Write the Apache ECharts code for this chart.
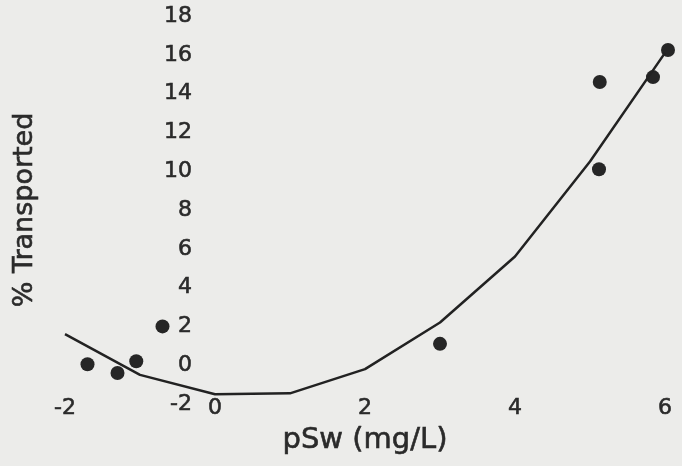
<!DOCTYPE html>
<html>
<head>
<meta charset="utf-8">
<script src="https://cdn.jsdelivr.net/npm/echarts@6/dist/echarts.min.js"></script>
<style>
  html, body { margin: 0; padding: 0; background: #ececea; }
  #main { width: 682px; height: 466px; }
</style>
</head>
<body>
<div id="main"></div>
<script>
// fitted curve
var lineX = [-2, -1, 0, 1, 2, 3, 4, 5, 6];
var lineY = [1.6, -0.5, -1.5, -1.45, -0.2, 2.2, 5.6, 10.5, 16.1];
// measured points
var pointX = [-1.7, -1.3, -1.05, -0.7, 3.0, 5.13, 5.12, 5.84, 6.04];
var pointY = [0.05, -0.4, 0.2, 2.0, 1.1, 14.6, 10.1, 14.85, 16.25];

function pairs(xs, ys) {
    var out = [];
    for (var i = 0; i < xs.length; i++) out.push([xs[i], ys[i]]);
    return out;
}

var myChart = echarts.init(document.getElementById('main'));

var textColor = '#2a2a2a';
// slightly heavier than regular, like the scanned print
var ink = { color: textColor, fontFamily: 'DejaVu Sans', textBorderColor: textColor, textBorderWidth: 0.6 };

var option = {
    backgroundColor: '#ececea',
    animation: false,
    grid: { left: 65, right: 17, top: 16, bottom: 62, containLabel: false, outerBoundsMode: 'none' },
    xAxis: {
        type: 'value',
        min: -2, max: 6, interval: 2,
        name: 'pSw (mg/L)',
        nameLocation: 'middle',
        nameGap: 22,
        nameTextStyle: echarts.util.extend({ fontSize: 29 }, ink),
        axisLine: { show: false, onZero: false },
        axisTick: { show: false },
        splitLine: { show: false },
        axisLabel: echarts.util.extend({ fontSize: 22, verticalAlign: 'middle', margin: 4 }, ink)
    },
    yAxis: {
        type: 'value',
        min: -2, max: 18, interval: 2,
        position: 'left',
        offset: -150,   // axis sits at x = 0
        name: '% Transported',
        nameLocation: 'middle',
        nameGap: 177,
        nameTextStyle: echarts.util.extend({ fontSize: 27 }, ink),
        axisLine: { show: false, onZero: false },
        axisTick: { show: false },
        splitLine: { show: false },
        axisLabel: echarts.util.extend({ fontSize: 22, margin: 23 }, ink)
    },
    series: [{
        type: 'line',
        data: pairs(lineX, lineY),
        symbol: 'none',
        lineStyle: { color: '#222', width: 2.5 },
        clip: false
    }, {
        type: 'scatter',
        data: pairs(pointX, pointY),
        symbolSize: 14,
        itemStyle: { color: '#262626', opacity: 1 },
        clip: false
    }]
};
myChart.setOption(option);
</script>
</body>
</html>
